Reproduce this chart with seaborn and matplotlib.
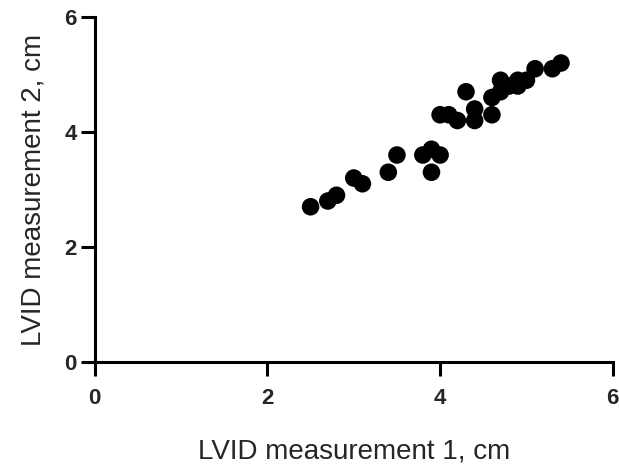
import matplotlib
matplotlib.use("Agg")
import matplotlib.pyplot as plt
import seaborn as sns
import pandas as pd

# LVID measurement 1 (cm)
meas1 = [2.5, 2.7, 2.8, 3.0, 3.1, 3.4, 3.5, 3.8, 3.9, 3.9, 4.0,
         4.0, 4.1, 4.2, 4.3, 4.4, 4.4, 4.6, 4.6, 4.7, 4.7, 4.8,
         4.9, 4.9, 5.0, 5.1, 5.3, 5.4]
# LVID measurement 2 (cm)
meas2 = [2.7, 2.8, 2.9, 3.2, 3.1, 3.3, 3.6, 3.6, 3.7, 3.3, 3.6,
         4.3, 4.3, 4.2, 4.7, 4.4, 4.2, 4.3, 4.6, 4.9, 4.7, 4.8,
         4.9, 4.8, 4.9, 5.1, 5.1, 5.2]

xticks = [0, 2, 4, 6]
yticks = [0, 2, 4, 6]

df = pd.DataFrame({"m1": meas1, "m2": meas2})

sns.set_style("ticks")
plt.rcParams["font.family"] = ["Liberation Sans", "DejaVu Sans"]

fig = plt.figure(figsize=(6.19, 4.72), dpi=100)
ax = fig.add_axes([0.153, 0.233, 0.837, 0.731])

sns.scatterplot(data=df, x="m1", y="m2", ax=ax, color="black",
                s=160, edgecolor="none", clip_on=False, zorder=3)

ax.set_xlim(0, 6)
ax.set_ylim(0, 6)
ax.set_xticks(xticks)
ax.set_yticks(yticks)
ax.set_xticklabels([str(t) for t in xticks], fontsize=16, fontweight="bold")
ax.set_yticklabels([str(t) for t in yticks], fontsize=16, fontweight="bold")
ax.set_xlabel("LVID measurement 1, cm", fontsize=20, labelpad=21)
ax.set_ylabel("LVID measurement 2, cm", fontsize=20, labelpad=13)

for sp in ["top", "right"]:
    ax.spines[sp].set_visible(False)
for sp in ["left", "bottom"]:
    ax.spines[sp].set_linewidth(2.2)
    ax.spines[sp].set_color("black")
ax.tick_params(axis="both", width=2.2, length=10, color="black")
ax.tick_params(axis="x", pad=9)
ax.tick_params(axis="y", pad=3)

fig.savefig("out.png", dpi=100)
